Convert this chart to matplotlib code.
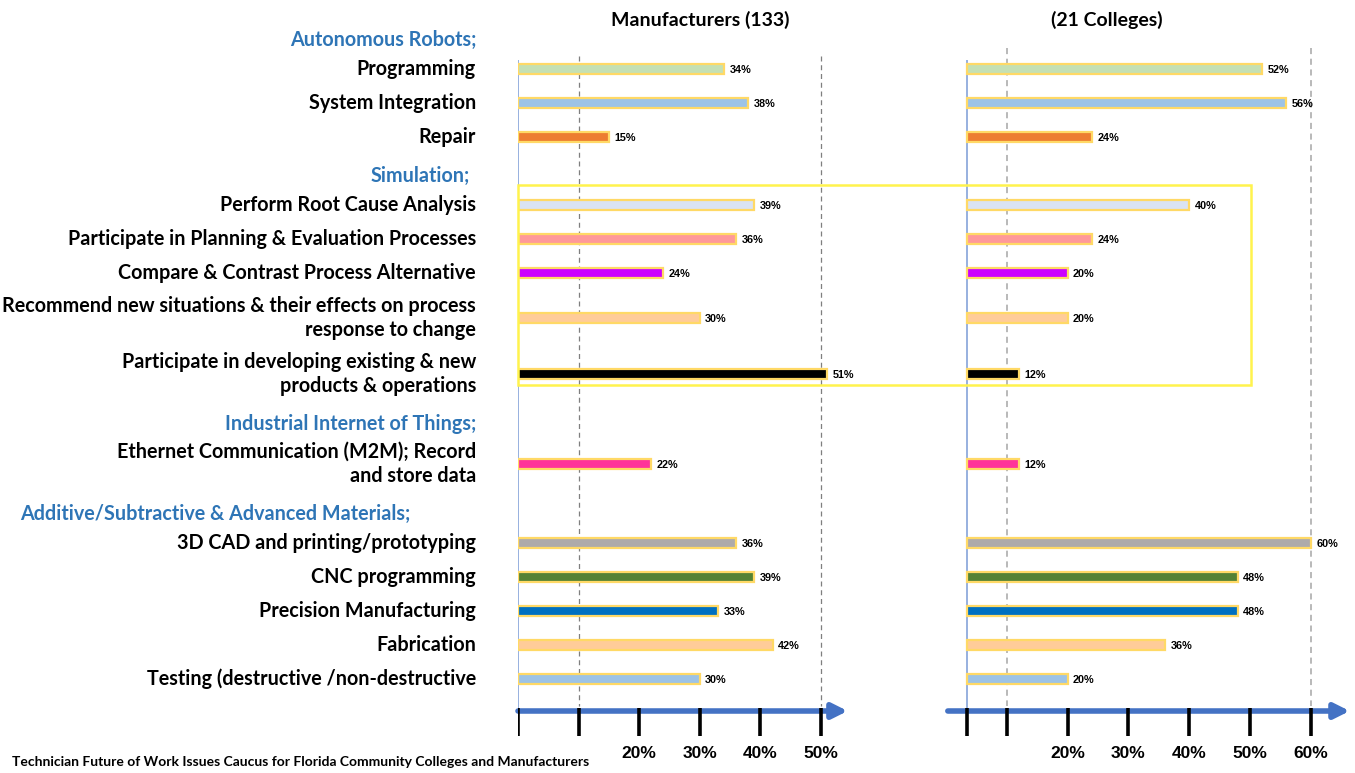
import matplotlib
matplotlib.use("Agg")
import matplotlib.pyplot as plt
from matplotlib.patches import Rectangle

# ---------------- data ----------------
section_titles = ["Autonomous Robots;", "Simulation;",
                  "Industrial Internet of Things;",
                  "Additive/Subtractive & Advanced Materials;"]
row_labels = ["Programming", "System Integration", "Repair",
              "Perform Root Cause Analysis",
              "Participate in Planning & Evaluation Processes",
              "Compare & Contrast Process Alternative",
              "Recommend new situations & their effects on process\nresponse to change",
              "Participate in developing existing & new\nproducts & operations",
              "Ethernet Communication (M2M); Record\nand store data",
              "3D CAD and printing/prototyping", "CNC programming",
              "Precision Manufacturing", "Fabrication",
              "Testing (destructive /non-destructive"]
row_section = [0, 0, 0, 1, 1, 1, 1, 1, 2, 3, 3, 3, 3, 3]
manufacturers = [34, 38, 15, 39, 36, 24, 30, 51, 22, 36, 39, 33, 42, 30]
colleges = [52, 56, 24, 40, 24, 20, 20, 12, 12, 60, 48, 48, 36, 20]
panel_titles = ["Manufacturers (133)", "(21 Colleges)"]
left_ticks = [0, 10, 20, 30, 40, 50]
right_ticks = [10, 20, 30, 40, 50, 60]
footer = ("Technician Future of Work Issues Caucus for Florida Community "
          "Colleges and Manufacturers")

# ---------------- style ----------------
bar_colors = ["#C5E0B4", "#9DC3E6", "#ED7D31", "#DAE3F3", "#FF9999",
              "#CC00FF", "#FFCC99", "#000000", "#FF3399", "#AEAAAA",
              "#548235", "#0070C0", "#FFCC99", "#9DC3E6"]
EDGE = "#FFD966"
HEADER_COLOR = "#2E75B6"
ARROW_COLOR = "#4472C4"
ZERO_COLOR = "#8FAADC"
FONT = ["Lato", "DejaVu Sans"]
NUMFONT = ["Liberation Sans", "DejaVu Sans"]
LABEL_SIZE = 14.2
header_right = [477, 470, 476, 410]
R_START = 3.4          # bars of right panel start slightly right of axis origin

W, H = 1355, 773
fig = plt.figure(figsize=(W / 100, H / 100), dpi=100)

# ---------------- row layout (pixels from top) ----------------
items = []
y = 28
prev_sec = None
for i, lab in enumerate(row_labels):
    if row_section[i] != prev_sec:
        if prev_sec is not None:
            y += 10
        items.append(("h", row_section[i], y + 12))
        y += 24
        prev_sec = row_section[i]
    h = 56 if "\n" in lab else 34
    items.append(("r", i, y + h / 2))
    y += h
row_y = {idx: yy for kind, idx, yy in items if kind == "r"}
head_y = {idx: yy for kind, idx, yy in items if kind == "h"}
ys = [row_y[i] for i in range(len(row_labels))]

# ---------------- axes ----------------
px = 6.06
axL = fig.add_axes([518 / W, 0, 55 * px / W, 1])
axL.set_xlim(0, 55)
axR = fig.add_axes([946 / W, 0, 66.5 * 6.08 / W, 1])
axR.set_xlim(0, 66.5)
for ax in (axL, axR):
    ax.set_ylim(H, 0)
    ax.axis("off")

# gridlines (dashed)
axL.vlines([10, 50], 56, 706, colors="#7F7F7F", linestyles=(0, (4, 3)), lw=0.9)
axR.vlines([10, 60], 48, 706, colors="#A6A6A6", linestyles=(0, (4, 3)), lw=1.1)
# zero lines
axL.vlines(0, 60, 736, colors=ZERO_COLOR, lw=1.3)
axR.vlines(R_START, 60, 736, colors=ZERO_COLOR, lw=1.3)

# bars
axL.barh(ys, manufacturers, height=10, color=bar_colors, edgecolor=EDGE,
         linewidth=1.6, zorder=3)
axR.barh(ys, [v - R_START for v in colleges], left=R_START, height=10,
         color=bar_colors, edgecolor=EDGE, linewidth=1.6, zorder=3)
for v, yy in zip(manufacturers, ys):
    axL.text(v + 0.9, yy + 1, f"{v}%", fontsize=7.8, fontweight="bold",
             family=NUMFONT, va="center", ha="left")
for v, yy in zip(colleges, ys):
    axR.text(v + 0.9, yy + 1, f"{v}%", fontsize=7.8, fontweight="bold",
             family=NUMFONT, va="center", ha="left")

# arrows + ticks
axL.annotate("", xy=(54.4, 711), xytext=(0, 711), annotation_clip=False,
             arrowprops=dict(arrowstyle="-|>,head_length=0.9,head_width=0.45",
                             color=ARROW_COLOR, lw=4, shrinkA=0, shrinkB=0))
axR.annotate("", xy=(66.4, 711), xytext=(0.3, 711), annotation_clip=False,
             arrowprops=dict(arrowstyle="-|>,head_length=0.9,head_width=0.45",
                             color=ARROW_COLOR, lw=4, shrinkA=0, shrinkB=0))
axL.vlines(left_ticks, 708, 736, colors="black", lw=2.6, zorder=4)
axR.vlines([R_START] + right_ticks, 708, 736, colors="black", lw=2.6, zorder=4)
for t in left_ticks:
    if t >= 20:
        axL.text(t, 753, f"{t}%", ha="center", va="center", fontsize=12.5,
                 fontweight="bold", family=NUMFONT)
for t in right_ticks:
    if t >= 20:
        axR.text(t, 753, f"{t}%", ha="center", va="center", fontsize=12.5,
                 fontweight="bold", family=NUMFONT)

# panel titles
fig.text(700 / W, 1 - 20 / H, panel_titles[0], ha="center", va="center",
         fontsize=14, fontweight="bold", family=FONT)
fig.text(1107 / W, 1 - 20 / H, panel_titles[1], ha="center", va="center",
         fontsize=14, fontweight="bold", family=FONT)

# labels
for i, lab in enumerate(row_labels):
    fig.text(476 / W, 1 - ys[i] / H, lab, ha="right", va="center",
             fontsize=LABEL_SIZE, fontweight="bold", family=FONT,
             linespacing=1.3)
for s, title in enumerate(section_titles):
    fig.text(header_right[s] / W, 1 - head_y[s] / H, title, ha="right",
             va="center", fontsize=LABEL_SIZE, fontweight="bold", family=FONT,
             color=HEADER_COLOR)

# highlight box around the Simulation rows
sim_rows = [i for i, s in enumerate(row_section) if s == 1]
top_px = ys[sim_rows[0]] - 20
bot_px = ys[sim_rows[-1]] + 11
x0_px = axL.transData.transform((0, 0))[0]
x1_px = axR.transData.transform((50.2, 0))[0]
fig.patches.append(Rectangle((x0_px / W, 1 - bot_px / H),
                             (x1_px - x0_px) / W, (bot_px - top_px) / H,
                             transform=fig.transFigure, fill=False,
                             edgecolor="#FFF34D", lw=1.8, zorder=5))

# footer
fig.text(12 / W, 1 - 762 / H, footer, ha="left", va="center", fontsize=10,
         fontweight="bold", family=FONT)

fig.savefig("out.png", dpi=100)
